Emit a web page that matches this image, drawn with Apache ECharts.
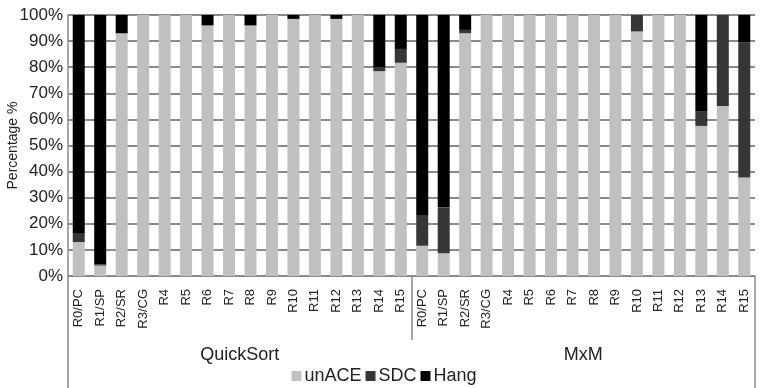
<!DOCTYPE html>
<html><head><meta charset="utf-8">
<script src="https://cdn.jsdelivr.net/npm/echarts@6/dist/echarts.min.js"></script>
<style>html,body{margin:0;padding:0;background:#fff}#c{width:768px;height:388px}</style>
</head><body><div id="c"></div>
<script>
var registers = ['R0/PC','R1/SP','R2/SR','R3/CG','R4','R5','R6','R7','R8','R9','R10','R11','R12','R13','R14','R15'];
var groups = ['QuickSort','MxM'];
var qsUnACE = [13, 4, 93, 100, 100, 100, 96, 100, 96, 100, 98.5, 100, 98.5, 100, 78.5, 81.7];
var qsSDC   = [3.5, 0.5, 0, 0, 0, 0, 0, 0, 0, 0, 0, 0, 0, 0, 1.5, 5.3];
var qsHang  = [83.5, 95.5, 7, 0, 0, 0, 4, 0, 4, 0, 1.5, 0, 1.5, 0, 20, 13];
var mxmUnACE = [11.6, 8.7, 93, 100, 100, 100, 100, 100, 100, 100, 93.7, 100, 100, 57.5, 65.1, 37.7];
var mxmSDC   = [11.8, 17.6, 1.3, 0, 0, 0, 0, 0, 0, 0, 6.3, 0, 0, 5.7, 34.9, 51.7];
var mxmHang  = [76.6, 73.7, 5.7, 0, 0, 0, 0, 0, 0, 0, 0, 0, 0, 36.8, 0, 10.6];
var yTicks = [0,10,20,30,40,50,60,70,80,90,100];

var cats = registers.concat(registers);
var unACE = qsUnACE.concat(mxmUnACE);
var sdc = qsSDC.concat(mxmSDC);
var hang = qsHang.concat(mxmHang);

var chart = echarts.init(document.getElementById('c'));
var font = 'Liberation Sans, Arial, sans-serif';
var axisGray = '#8a8a8a';
chart.setOption({
  animation: false,
  textStyle: {fontFamily: font},
  grid: {left: 68, right: 13, top: 15, bottom: 112, outerBoundsMode: 'none', containLabel: false},
  legend: {
    data: ['unACE','SDC','Hang'], top: 362, left: 'center',
    itemWidth: 10, itemHeight: 10, itemGap: 4,
    textStyle: {fontSize: 18, color: '#222', fontFamily: font, padding: [0,0,0,-2]},
    icon: 'rect'
  },
  xAxis: [
    {type: 'category', data: cats, gridIndex: 0,
     axisLine: {lineStyle: {color: axisGray, width: 1.5}},
     axisTick: {show: false},
     axisLabel: {rotate: 90, interval: 0, fontSize: 13, color: '#222', margin: 13}},
    {type: 'category', data: groups, position: 'bottom', gridIndex: 0,
     axisLine: {show: false},
     axisTick: {show: true, length: 64, lineStyle: {color: axisGray, width: 1.5}},
     axisLabel: {fontSize: 18, color: '#222', margin: 70}},
    {type: 'category', data: [''], position: 'bottom', gridIndex: 0,
     axisLine: {show: false},
     axisTick: {show: true, length: 112, lineStyle: {color: axisGray, width: 1.5}},
     axisLabel: {show: false}}
  ],
  yAxis: {
    type: 'value', min: yTicks[0], max: yTicks[yTicks.length-1], interval: 10,
    name: 'Percentage %', nameLocation: 'middle', nameGap: 48, nameRotate: 90,
    nameMoveOverlap: false,
    nameTextStyle: {fontSize: 14, color: '#222'},
    axisLine: {show: true, lineStyle: {color: axisGray, width: 1.5}},
    axisTick: {show: false},
    axisLabel: {formatter: '{value}%', fontSize: 17, color: '#222', margin: 5},
    splitLine: {lineStyle: {color: axisGray, width: 2}}
  },
  series: [
    {name: 'unACE', type: 'bar', stack: 'a', data: unACE, barWidth: 12, itemStyle: {color: '#c0c0c0'}},
    {name: 'SDC', type: 'bar', stack: 'a', data: sdc, barWidth: 12, itemStyle: {color: '#363636'}},
    {name: 'Hang', type: 'bar', stack: 'a', data: hang, barWidth: 12, itemStyle: {color: '#000000'}}
  ]
});
</script></body></html>
